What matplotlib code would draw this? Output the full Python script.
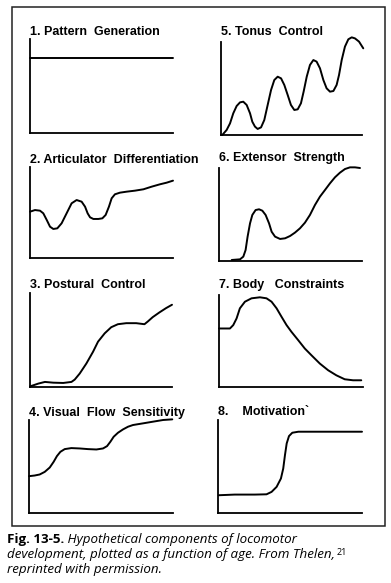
import matplotlib.pyplot as plt
from matplotlib.patches import Rectangle

# --- data (x: 0..1 along age axis, y: 0..1 of axis height) ---
titles = ["1. Pattern  Generation", "2. Articulator  Differentiation",
          "3. Postural  Control", "4. Visual  Flow  Sensitivity",
          "5. Tonus  Control", "6. Extensor  Strength",
          "7. Body   Constraints", "8.    Motivation`"]

pattern_x = [0.0, 1.0]
pattern_y = [0.80, 0.80]

artic_x = [0.0, 0.035, 0.070, 0.093, 0.117, 0.140, 0.163, 0.191, 0.221, 0.256, 0.291,
           0.326, 0.361, 0.385, 0.403, 0.420, 0.443, 0.478, 0.506, 0.529, 0.552, 0.571,
           0.594, 0.629, 0.676, 0.734, 0.793, 0.851, 0.909, 0.956, 1.0]
artic_y = [0.509, 0.527, 0.520, 0.491, 0.418, 0.344, 0.319, 0.326, 0.381, 0.491, 0.601,
           0.637, 0.619, 0.564, 0.491, 0.447, 0.429, 0.429, 0.436, 0.473, 0.564, 0.656,
           0.700, 0.718, 0.729, 0.740, 0.755, 0.784, 0.810, 0.828, 0.850]

postural_x = [0.0, 0.023, 0.058, 0.105, 0.164, 0.234, 0.292, 0.315, 0.350, 0.397, 0.444,
              0.479, 0.526, 0.572, 0.619, 0.678, 0.748, 0.806, 0.829, 0.864, 0.911, 0.958, 1.0]
postural_y = [0.007, 0.018, 0.036, 0.054, 0.046, 0.043, 0.054, 0.079, 0.143, 0.250, 0.375,
              0.482, 0.571, 0.636, 0.668, 0.679, 0.679, 0.668, 0.696, 0.743, 0.793, 0.839, 0.875]

visual_x = [0.0, 0.039, 0.074, 0.109, 0.144, 0.171, 0.194, 0.218, 0.248, 0.294, 0.352,
            0.410, 0.468, 0.514, 0.542, 0.565, 0.588, 0.618, 0.653, 0.688, 0.722, 0.792,
            0.861, 0.931, 0.995]
visual_y = [0.396, 0.403, 0.414, 0.442, 0.489, 0.550, 0.612, 0.658, 0.687, 0.698, 0.694,
            0.687, 0.683, 0.694, 0.719, 0.766, 0.820, 0.863, 0.899, 0.928, 0.946, 0.964,
            0.982, 1.0, 1.007]

tonus_x = [0.009, 0.040, 0.064, 0.087, 0.111, 0.135, 0.158, 0.182, 0.206, 0.222, 0.241,
           0.260, 0.284, 0.307, 0.331, 0.355, 0.378, 0.402, 0.426, 0.449, 0.473, 0.496,
           0.520, 0.544, 0.567, 0.586, 0.608, 0.631, 0.655, 0.678, 0.702, 0.726, 0.749,
           0.773, 0.797, 0.820, 0.837, 0.856, 0.879, 0.903, 0.927, 0.950, 0.979, 1.009]
tonus_y = [0.0, 0.054, 0.125, 0.233, 0.312, 0.351, 0.358, 0.323, 0.233, 0.143, 0.090,
           0.065, 0.082, 0.161, 0.323, 0.484, 0.591, 0.627, 0.609, 0.538, 0.430, 0.323,
           0.269, 0.276, 0.341, 0.466, 0.627, 0.753, 0.806, 0.789, 0.717, 0.591, 0.502,
           0.466, 0.473, 0.538, 0.645, 0.806, 0.950, 1.029, 1.050, 1.039, 1.004, 0.932]

extensor_x = [0.089, 0.147, 0.170, 0.186, 0.200, 0.217, 0.233, 0.256, 0.280, 0.303, 0.326,
              0.350, 0.368, 0.392, 0.427, 0.462, 0.497, 0.531, 0.566, 0.601, 0.636, 0.671,
              0.706, 0.741, 0.776, 0.811, 0.846, 0.881, 0.916, 0.951, 0.986]
extensor_y = [0.011, 0.018, 0.047, 0.118, 0.262, 0.405, 0.495, 0.548, 0.556, 0.541, 0.495,
              0.405, 0.315, 0.262, 0.237, 0.244, 0.269, 0.305, 0.351, 0.412, 0.495, 0.602,
              0.692, 0.763, 0.835, 0.900, 0.950, 0.989, 1.007, 1.007, 1.0]

body_x = [0.0, 0.042, 0.076, 0.099, 0.122, 0.145, 0.180, 0.226, 0.284, 0.330, 0.365, 0.400,
          0.434, 0.469, 0.503, 0.550, 0.596, 0.642, 0.700, 0.758, 0.815, 0.873, 0.931, 0.988]
body_y = [0.636, 0.636, 0.636, 0.673, 0.745, 0.855, 0.927, 0.964, 0.975, 0.964, 0.927, 0.855,
          0.764, 0.673, 0.600, 0.509, 0.418, 0.345, 0.255, 0.182, 0.127, 0.084, 0.073, 0.073]

motiv_x = [0.005, 0.116, 0.256, 0.337, 0.372, 0.407, 0.437, 0.453, 0.465, 0.477, 0.493,
           0.516, 0.558, 0.651, 0.767, 0.884, 1.0]
motiv_y = [0.191, 0.198, 0.198, 0.201, 0.227, 0.281, 0.371, 0.478, 0.622, 0.748, 0.827,
           0.863, 0.874, 0.874, 0.874, 0.874, 0.874]

curves = [(pattern_x, pattern_y), (artic_x, artic_y), (postural_x, postural_y),
          (visual_x, visual_y), (tonus_x, tonus_y), (extensor_x, extensor_y),
          (body_x, body_y), (motiv_x, motiv_y)]

# --- layout (pixel boxes: left, top, right, bottom) ---
W, H = 391, 583
boxes = [(30, 39, 173, 133), (30, 167, 173, 258), (30, 293, 172, 387), (29, 420, 173, 513),
         (221, 42, 362, 135), (219, 168, 362, 261), (219, 295, 363, 387), (218, 420, 362, 513)]
title_y = [32, 160, 285, 413, 32, 158, 285, 412]

fig = plt.figure(figsize=(W / 100, H / 100), dpi=100)
fig.patch.set_facecolor('white')

# outer frame
fig.patches.append(Rectangle((12 / W, 1 - 526 / H), (385 - 12) / W, (526 - 7) / H,
                             transform=fig.transFigure, fill=False, lw=1.1, ec='#222222'))

for (l, t, r, b), title, ty, (xs, ys) in zip(boxes, titles, title_y, curves):
    ax = fig.add_axes([l / W, 1 - b / H, (r - l) / W, (b - t) / H])
    ax.plot(xs, ys, color='black', lw=1.4, clip_on=False,
            solid_capstyle='round', solid_joinstyle='round')
    ax.set_xlim(0, 1)
    ax.set_ylim(0, 1)
    for side in ['top', 'right']:
        ax.spines[side].set_visible(False)
    for side in ['left', 'bottom']:
        ax.spines[side].set_linewidth(1.3)
    ax.set_xticks([])
    ax.set_yticks([])
    ax.patch.set_alpha(0)
    fig.text(l / W, 1 - ty / H, title, fontsize=9, fontweight='bold',
             family='Liberation Sans', ha='left', va='center')

# --- caption ---
cap_font = 'Open Sans'
fs = 9.6
t1 = fig.text(7 / W, 1 - 543 / H, "Fig. 13-5.", fontsize=fs, fontweight='bold',
              family=cap_font, va='baseline')
plt.annotate(" Hypothetical components of locomotor", xy=(1, 0), xycoords=t1,
             fontsize=fs, style='italic', family=cap_font, va='bottom', ha='left')
t2 = fig.text(7 / W, 1 - 558 / H, "development, plotted as a function of age. From Thelen,",
              fontsize=fs, style='italic', family=cap_font, va='baseline')
plt.annotate("21", xy=(1, 1), xycoords=t2, fontsize=6.5, family=cap_font,
             va='top', ha='left', xytext=(1, 0), textcoords='offset points')
fig.text(7 / W, 1 - 573 / H, "reprinted with permission.",
         fontsize=fs, style='italic', family=cap_font, va='baseline')

fig.savefig('out.png', dpi=100)
